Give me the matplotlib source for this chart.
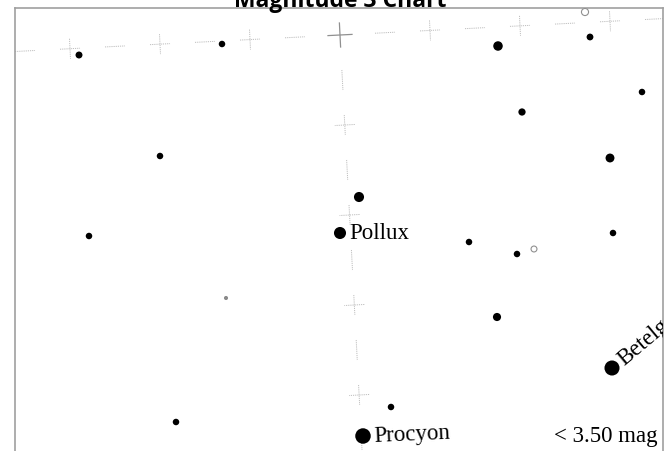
import numpy as np
import matplotlib
matplotlib.use("Agg")
import matplotlib.pyplot as plt

W, H = 670, 452

# star field in chart pixel coordinates, brightness as magnitude
STAR_X = [79, 222, 498, 590, 642, 522, 160, 610, 359, 340, 89, 469, 517, 613, 497, 612, 391, 176, 363]
STAR_Y = [56, 45, 47, 38, 93, 113, 157, 159, 198, 234, 237, 243, 255, 234, 318, 369, 408, 423, 437]
STAR_MAG = [2.85, 3.0, 2.0, 2.9, 3.0, 2.75, 3.0, 2.2, 1.8, 1.15, 3.0, 3.0, 3.0, 3.0, 2.45, 0.15, 3.0, 3.0, 0.0]

FAINT_X = [226]
FAINT_Y = [299]
FAINT_MAG = [3.8]

OPEN_X = [585, 534]
OPEN_Y = [13, 250]
OPEN_MAG = [2.8, 3.2]

LABELS = ["Pollux", "Procyon", "Betelgeuse"]
LABEL_STAR = [9, 18, 15]
LABEL_ROT = [0, 2.5, 40]

DEC_LINE_X = [25, 655]
DEC_LINE_Y = [52, 20]
RA_LINE_X = [340, 361.5]
RA_LINE_Y = [36, 441]

TITLE = "Magnitude 3 Chart"
LIMIT_TEXT = "< 3.50 mag"


def mag_to_size(mag):
    diam_px = 15.5 - 3.0 * np.asarray(mag, dtype=float)
    diam_pt = diam_px * 72.0 / 100.0
    return diam_pt ** 2


def grid_line(ax, xs, ys, n, plus_on_even, skip=None):
    p0 = np.array([xs[0], ys[0]], dtype=float)
    p1 = np.array([xs[1], ys[1]], dtype=float)
    d = (p1 - p0) / np.linalg.norm(p1 - p0)
    perp = np.array([-d[1], d[0]])
    style = dict(color="#bdbdbd", lw=0.7, linestyle=(0, (1.2, 1.0)), zorder=1)
    for i in range(n):
        c = p0 + (p1 - p0) * i / (n - 1)
        if skip is not None and i == skip:
            continue
        a, b = c - d * 10, c + d * 10
        ax.plot([a[0], b[0]], [a[1], b[1]], **style)
        if (i % 2 == 0) == plus_on_even:
            a, b = c - perp * 10, c + perp * 10
            ax.plot([a[0], b[0]], [a[1], b[1]], **style)


fig = plt.figure(figsize=(W / 100, H / 100), dpi=100)
bottom_px = 470
top_px = 9
ax = fig.add_axes([15 / W, 1 - bottom_px / H, (663 - 15) / W, (bottom_px - top_px) / H])
ax.set_xlim(15, 663)
ax.set_ylim(bottom_px, top_px)
ax.set_xticks([])
ax.set_yticks([])
for sp in ax.spines.values():
    sp.set_color("#a0a0a0")
    sp.set_linewidth(1.2)

grid_line(ax, DEC_LINE_X, DEC_LINE_Y, 15, plus_on_even=False, skip=7)
grid_line(ax, RA_LINE_X, RA_LINE_Y, 10, plus_on_even=True, skip=0)

# crossing of the two grid lines
cx, cy = RA_LINE_X[0], RA_LINE_Y[0]
ax.plot([cx - 12, cx + 12], [cy + 0.6, cy - 0.6], color="#909090", lw=0.9, zorder=1)
ax.plot([cx - 0.6, cx + 0.6], [cy - 12, cy + 12], color="#909090", lw=0.9, zorder=1)

ax.scatter(STAR_X, STAR_Y, s=mag_to_size(STAR_MAG), color="black", edgecolors="none", zorder=3)
ax.scatter(FAINT_X, FAINT_Y, s=mag_to_size(FAINT_MAG), color="#8a8a8a", edgecolors="none", zorder=3)
ax.scatter(OPEN_X, OPEN_Y, s=mag_to_size(OPEN_MAG), facecolors="white", edgecolors="#909090",
           linewidths=0.8, zorder=3)

sizes = 15.5 - 3.0 * np.asarray(STAR_MAG)
for name, idx, rot in zip(LABELS, LABEL_STAR, LABEL_ROT):
    r = sizes[idx] / 2 + 3
    ang = np.deg2rad(rot)
    ax.text(STAR_X[idx] + r * np.cos(ang), STAR_Y[idx] - r * np.sin(ang), name,
            family="Liberation Serif", fontsize=16.5, color="black",
            ha="left", va="center", rotation=rot, rotation_mode="anchor",
            clip_on=True, zorder=4)

ax.text(658, 437, LIMIT_TEXT, family="Liberation Serif", fontsize=16.5, color="black",
        ha="right", va="center", zorder=4)

fig.text(0.508, 1 - 7 / H, TITLE, family="Open Sans", fontweight="bold", fontsize=16.5,
         color="black", ha="center", va="baseline")

fig.savefig("out.png", dpi=100)
